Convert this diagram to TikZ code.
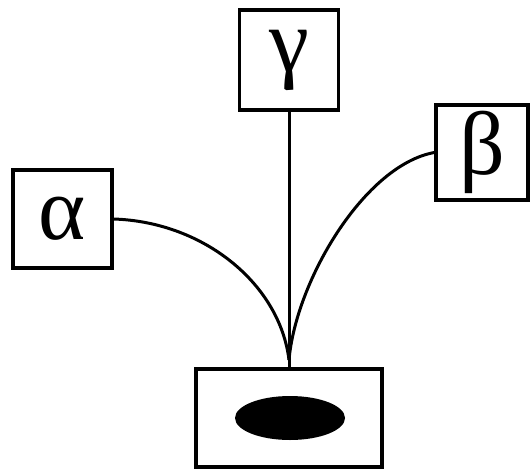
\documentclass[tikz,border=0pt]{standalone}
\usepackage{fontspec}
\setmainfont{Liberation Serif}
\usetikzlibrary{shapes.geometric}
\tikzset{
  greekbox/.style={draw, line width=3.4pt, inner sep=0pt, font=\fontsize{90}{90}\selectfont},
  wire/.style={line width=3pt},
}
\begin{document}
\begin{tikzpicture}[x=1pt,y=-1pt]
\useasboundingbox (0,0) rectangle (530,469);
\node[greekbox, minimum width=99pt, minimum height=100pt] (g) at (289,60) {γ};
\node[greekbox, minimum width=92pt, minimum height=95pt] (b) at (482,152.5) {β};
\node[greekbox, minimum width=99pt, minimum height=98pt] (a) at (62.5,219) {α};
\node[draw, line width=3.4pt, minimum width=186pt, minimum height=98pt, inner sep=0pt] (bot) at (289,418) {};
\node[ellipse, fill=black, minimum width=110pt, minimum height=44pt, inner sep=0pt] (e) at (290,418) {};
\coordinate (m) at (289,360);
\draw[wire] (g.south) -- (bot.north);
\draw[wire] (a.east) .. controls (205,222) and (280,285) .. (m);
\draw[wire] (b.west) .. controls (365,165) and (296,280) .. (m);
\draw[wire] (m) -- (bot.north);
\end{tikzpicture}
\end{document}
